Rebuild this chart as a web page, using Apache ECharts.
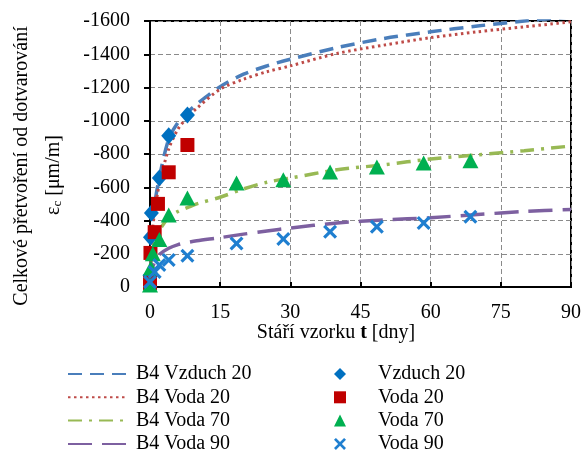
<!DOCTYPE html>
<html>
<head>
<meta charset="utf-8">
<script src="https://cdn.jsdelivr.net/npm/echarts@6.0.0/dist/echarts.min.js"></script>
<style>
  html, body { margin: 0; padding: 0; background: #fff; }
  #main { width: 584px; height: 450px; }
</style>
</head>
<body>
<div id="main"></div>
<script>
// model curves (B4), age in days
const lineT = [0, 0.5, 1, 2, 4, 6, 8, 10, 15, 20, 25, 30, 40, 50, 60, 70, 80, 90];
const b4Vzduch20 = [0, -380, -500, -660, -890, -990, -1050, -1100, -1205, -1280, -1330, -1370, -1440, -1495, -1535, -1570, -1600, -1625];
const b4Voda20 = [0, -330, -450, -620, -830, -950, -1020, -1075, -1190, -1250, -1295, -1330, -1405, -1455, -1500, -1535, -1565, -1595];
const b4Voda70 = [0, -200, -270, -340, -420, -455, -478, -500, -540, -590, -630, -655, -705, -735, -770, -795, -820, -848];
const b4Voda90 = [0, -110, -150, -195, -233, -255, -268, -278, -297, -318, -337, -355, -385, -403, -417, -436, -454, -466];

// measured values
const vzduch20T = [0, 0.1, 0.3, 2, 4, 8];
const vzduch20V = [-70, -300, -445, -655, -910, -1035];
const voda20T = [0, 0.1, 1, 1.7, 4, 8];
const voda20V = [-24, -205, -330, -500, -690, -854];
const voda70T = [0, 0.2, 0.6, 2, 4, 8, 18.5, 28.5, 38.5, 48.5, 58.5, 68.5];
const voda70V = [-12, -114, -200, -285, -433, -535, -626, -645, -692, -722, -746, -760];
const voda90T = [0, 1, 2, 4, 8, 18.5, 28.5, 38.5, 48.5, 58.5, 68.5];
const voda90V = [-30, -90, -132, -162, -188, -262, -289, -333, -362, -385, -422];

const xTicks = { min: 0, max: 90, interval: 15 };
const yTicks = { min: -1600, max: 0, interval: 200 };

const FONT = 'Liberation Serif';

function pairs(xs, ys) {
  var out = [];
  for (var i = 0; i < xs.length; i++) {
    out.push([xs[i], ys[i]]);
  }
  return out;
}

const crossPath = 'path://M0,1.6L1.6,0L5,3.4L8.4,0L10,1.6L6.6,5L10,8.4L8.4,10L5,6.6L1.6,10L0,8.4L3.4,5Z';

const chart = echarts.init(document.getElementById('main'), null, { renderer: 'canvas' });

const lineSeries = function (name, data, color, type, width) {
  return {
    name: name,
    type: 'line',
    data: pairs(lineT, data),
    symbol: 'none',
    smooth: 0.3,
    clip: true,
    z: 2,
    lineStyle: { color: color, type: type, width: width, cap: 'butt' },
    itemStyle: { color: color }
  };
};

const scatterSeries = function (name, data, symbol, size, color, z) {
  return {
    name: name,
    type: 'scatter',
    data: data,
    symbol: symbol,
    symbolSize: size,
    z: z,
    itemStyle: { color: color, opacity: 1 }
  };
};

const legendText = function (pad) {
  return { fontFamily: FONT, fontSize: 20, color: '#000', lineHeight: 20, padding: [0, 0, 0, pad] };
};

const option = {
  animation: false,
  backgroundColor: '#ffffff',
  grid: {
    left: 150, right: 13, top: 21, bottom: 163,
    show: true, borderColor: '#000', borderWidth: 2, backgroundColor: 'transparent'
  },
  xAxis: {
    type: 'value',
    min: xTicks.min, max: xTicks.max, interval: xTicks.interval,
    axisLine: { show: true, onZero: false, lineStyle: { color: '#000', width: 2 } },
    axisTick: { show: true, inside: true, length: 5, lineStyle: { color: '#000', width: 2 } },
    axisLabel: { fontFamily: FONT, fontSize: 20, color: '#000', margin: 16 },
    splitLine: { show: true, lineStyle: { color: '#8a8a8a', type: [5, 3], width: 1 } }
  },
  yAxis: {
    type: 'value',
    inverse: true,
    min: yTicks.min, max: yTicks.max, interval: yTicks.interval,
    axisLine: { show: true, onZero: false, lineStyle: { color: '#000', width: 2 } },
    axisTick: { show: true, inside: false, length: 6, lineStyle: { color: '#000', width: 2 } },
    axisLabel: {
      fontFamily: FONT, fontSize: 20, color: '#000', margin: 20,
      formatter: function (v) { return String(v); }
    },
    splitLine: { show: true, lineStyle: { color: '#8a8a8a', type: [5, 3], width: 1 } }
  },
  legend: [
    {
      data: ['B4 Vzduch 20', 'B4 Voda 20', 'B4 Voda 70', 'B4 Voda 90'],
      orient: 'vertical', left: 62, top: 359, height: 91,
      itemWidth: 58, itemHeight: 14, itemGap: 3.3,
      itemStyle: { opacity: 0 },
      textStyle: legendText(5)
    },
    {
      data: ['Vzduch 20', 'Voda 20', 'Voda 70', 'Voda 90'],
      orient: 'vertical', left: 329, top: 359, height: 91,
      itemWidth: 12, itemHeight: 12, itemGap: 3.3,
      textStyle: legendText(27)
    }
  ],
  graphic: [
    {
      type: 'text', x: 22, y: 166, rotation: Math.PI / 2,
      style: {
        text: 'Celkové přetvoření od dotvarování',
        font: '20px "Liberation Serif"', fill: '#000',
        textAlign: 'center', textVerticalAlign: 'middle'
      }
    },
    {
      type: 'text', x: 54, y: 175, rotation: Math.PI / 2,
      style: {
        text: '{n|ε}{s|c}{n| [μm/m]}',
        fill: '#000', textAlign: 'center', textVerticalAlign: 'middle',
        rich: {
          n: { fontFamily: FONT, fontSize: 20, fill: '#000' },
          s: { fontFamily: FONT, fontSize: 13, fill: '#000', padding: [8, 0, 0, 0] }
        }
      }
    },
    {
      type: 'text', x: 336, y: 333,
      style: {
        text: '{n|Stáří vzorku }{b|t}{n| [dny]}',
        fill: '#000', textAlign: 'center', textVerticalAlign: 'middle',
        rich: {
          n: { fontFamily: FONT, fontSize: 20, fill: '#000' },
          b: { fontFamily: FONT, fontSize: 20, fontWeight: 'bold', fill: '#000' }
        }
      }
    }
  ],
  series: [
    lineSeries('B4 Vzduch 20', b4Vzduch20, '#4a7ebb', [14, 8], 3.5),
    lineSeries('B4 Voda 20', b4Voda20, '#be4b48', [2.5, 3.5], 3),
    lineSeries('B4 Voda 70', b4Voda70, '#98b954', [14, 7, 3, 7], 3.5),
    lineSeries('B4 Voda 90', b4Voda90, '#7d60a0', [24, 10], 3.5),
    scatterSeries('Vzduch 20', pairs(vzduch20T, vzduch20V), 'diamond', [15, 17], '#0070c0', 3),
    scatterSeries('Voda 20', pairs(voda20T, voda20V), 'rect', 14, '#c00000', 4),
    scatterSeries('Voda 70', pairs(voda70T, voda70V), 'triangle', [16, 15], '#00b050', 5),
    scatterSeries('Voda 90', pairs(voda90T, voda90V), crossPath, 14, '#1f7fd0', 6)
  ]
};

chart.setOption(option);
</script>
</body>
</html>
